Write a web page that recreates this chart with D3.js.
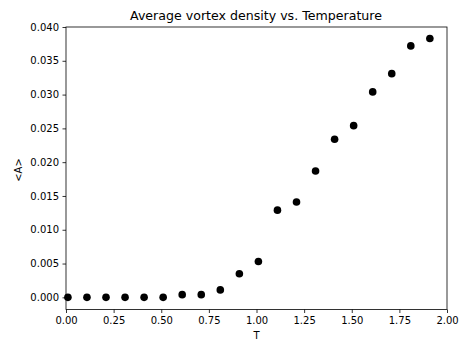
<!DOCTYPE html>
<html lang="en">
<head>
<meta charset="utf-8">
<title>Average vortex density vs. Temperature</title>
<script src="https://d3js.org/d3.v7.min.js"></script>
<style>
  body { margin: 0; background: white; }
  text { font-family: "DejaVu Sans", sans-serif; fill: black; }
</style>
</head>
<body>
<svg id="chart" width="460" height="339"></svg>
<script>
// temperatures and measured average vortex density
const temps = [0.01, 0.11, 0.21, 0.31, 0.41, 0.51, 0.61, 0.71, 0.81, 0.91,
               1.01, 1.11, 1.21, 1.31, 1.41, 1.51, 1.61, 1.71, 1.81, 1.91];
const density = [0.0000, 0.0000, 0.0000, 0.0000, 0.0000, 0.0000, 0.0004, 0.0004, 0.0011, 0.0035,
                 0.0053, 0.0129, 0.0141, 0.0187, 0.0234, 0.0254, 0.0304, 0.0331, 0.0372, 0.0383];
const xTicks = [0, 0.25, 0.5, 0.75, 1.0, 1.25, 1.5, 1.75, 2.0];
const yTicks = [0, 0.005, 0.01, 0.015, 0.02, 0.025, 0.03, 0.035, 0.04];

const svg = d3.select("#chart");
const mLeft = 66, mRight = 447, mTop = 27, mBottom = 309.5;

const x = d3.scaleLinear().domain([0, 2]).range([mLeft, mRight]);
const y = d3.scaleLinear().domain([-0.0018, 0.0400]).range([mBottom, mTop]);

// x axis
const xAxis = svg.append("g")
    .attr("transform", `translate(0,${mBottom})`)
    .call(d3.axisBottom(x).tickValues(xTicks).tickFormat(d3.format(".2f")).tickSize(3.5).tickPadding(3.5));

// y axis
const yAxis = svg.append("g")
    .attr("transform", `translate(${mLeft},0)`)
    .call(d3.axisLeft(y).tickValues(yTicks).tickFormat(d3.format(".3f")).tickSize(3.5).tickPadding(3.5));

[xAxis, yAxis].forEach(g => {
    g.select(".domain").remove();
    g.selectAll("line").attr("stroke", "black").attr("stroke-width", 0.8);
    g.selectAll("text").style("font-size", "10px").attr("fill", "black");
});

// frame
svg.append("rect")
    .attr("x", mLeft).attr("y", mTop)
    .attr("width", mRight - mLeft).attr("height", mBottom - mTop)
    .attr("fill", "none").attr("stroke", "black").attr("stroke-width", 0.8);

// points
svg.selectAll("circle.pt")
    .data(temps)
    .enter()
    .append("circle")
    .attr("class", "pt")
    .attr("cx", d => x(d))
    .attr("cy", (d, i) => y(density[i]))
    .attr("r", 3.8)
    .attr("fill", "black");

// title
svg.append("text")
    .attr("x", 256)
    .attr("y", 20)
    .attr("text-anchor", "middle")
    .style("font-size", "12.6px")
    .text("Average vortex density vs. Temperature");

// axis labels
svg.append("text")
    .attr("x", (mLeft + mRight) / 2)
    .attr("y", 338.5)
    .attr("text-anchor", "middle")
    .style("font-size", "10px")
    .text("T");

svg.append("text")
    .attr("transform", `translate(21.5,170) rotate(-90)`)
    .attr("text-anchor", "middle")
    .style("font-size", "10px")
    .text("<A>");
</script>
</body>
</html>
